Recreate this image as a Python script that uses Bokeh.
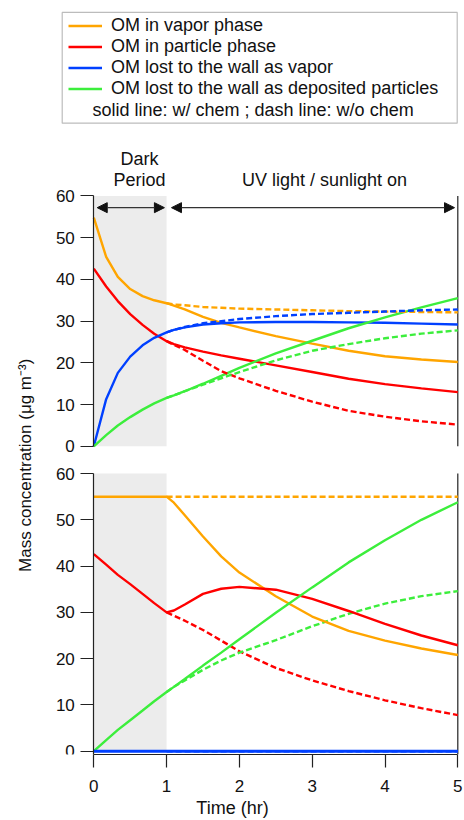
from bokeh.plotting import figure
from bokeh.models import (Range1d, LinearAxis, Legend, LegendItem, Label, Arrow,
                          NormalHead, BoxAnnotation, FixedTicker)
from bokeh.embed import file_html
from bokeh.resources import INLINE

# ---------------- data ----------------
t_dark = [0.0, 0.17, 0.33, 0.5, 0.67, 0.83, 1.0]
t_light = [1.0, 1.1, 1.25, 1.5, 1.75, 2.0, 2.5, 3.0, 3.5, 4.0, 4.5, 5.0]
t_all = t_dark + t_light[1:]

dark_period = [0.0, 1.0]
t_end = 5.0
y_ticks = [0, 10, 20, 30, 40, 50, 60]
x_ticks = [0, 1, 2, 3, 4, 5]
y_max = 60

# upper panel, with chemistry (solid, whole run)
a_vapor = [54.8, 45.4, 40.6, 37.7, 36.0, 35.0, 34.3,
           33.7, 32.8, 31.0, 29.6, 28.5, 26.4, 24.6, 22.9, 21.6, 20.8, 20.2]
a_particle = [42.6, 38.3, 34.8, 31.7, 29.1, 27.0, 25.2,
              24.5, 23.7, 22.7, 21.8, 21.0, 19.4, 17.8, 16.2, 14.9, 13.9, 13.0]
a_wall_vapor = [0.0, 11.3, 17.6, 21.5, 24.2, 26.0, 27.3,
                27.9, 28.5, 29.2, 29.5, 29.7, 29.8, 29.8, 29.7, 29.6, 29.4, 29.2]
a_wall_part = [0.0, 2.7, 5.0, 7.0, 8.8, 10.3, 11.6,
               12.2, 13.2, 15.0, 16.9, 18.8, 22.3, 25.3, 28.3, 30.9, 33.3, 35.5]
# upper panel, without chemistry (dashed, light period)
a_vapor_nc = [34.3, 34.0, 33.8, 33.4, 33.2, 33.0, 32.8, 32.6, 32.4, 32.3, 32.2, 32.1]
a_particle_nc = [25.2, 24.3, 23.1, 20.5, 18.0, 16.3, 13.3, 10.7, 8.5, 7.1, 6.0, 5.2]
a_wall_vapor_nc = [27.3, 27.9, 28.6, 29.5, 30.0, 30.5, 31.2, 31.7, 32.0, 32.3, 32.6, 32.8]
a_wall_part_nc = [11.6, 12.2, 13.2, 14.8, 16.3, 17.8, 20.6, 22.9, 24.5, 25.9, 27.0, 27.8]

# lower panel, with chemistry
b_vapor = [55.0, 55.0, 55.0, 55.0, 55.0, 55.0, 55.0,
           53.7, 51.0, 46.4, 42.1, 38.6, 33.5, 29.1, 26.0, 23.9, 22.2, 20.8]
b_particle = [42.6, 40.3, 38.1, 36.1, 34.0, 32.0, 30.0,
              30.4, 31.7, 34.0, 35.1, 35.5, 34.9, 32.9, 30.3, 27.5, 25.0, 22.9]
b_wall_vapor = [0.0, 0.0, 0.0, 0.0, 0.0, 0.0, 0.0,
                0.0, 0.0, 0.0, 0.0, 0.0, 0.0, 0.0, 0.0, 0.0, 0.0, 0.0]
b_wall_part = [0.0, 2.4, 4.6, 6.7, 8.8, 10.8, 12.8,
               13.9, 15.6, 18.5, 21.3, 24.2, 29.9, 35.4, 40.8, 45.6, 50.0, 53.8]
# lower panel, without chemistry
b_vapor_nc = [55.0, 55.0, 55.0, 55.0, 55.0, 55.0, 55.0, 55.0, 55.0, 55.0, 55.0, 55.0]
b_particle_nc = [30.0, 29.3, 28.2, 26.2, 23.9, 21.6, 18.0, 15.3, 13.0, 11.0, 9.3, 7.8]
b_wall_vapor_nc = [0.0, 0.0, 0.0, 0.0, 0.0, 0.0, 0.0, 0.0, 0.0, 0.0, 0.0, 0.0]
b_wall_part_nc = [12.8, 13.9, 15.3, 17.6, 19.6, 21.3, 24.0, 27.0, 29.7, 31.9, 33.5, 34.6]

labels = ["OM in vapor phase", "OM in particle phase",
          "OM lost to the wall as vapor", "OM lost to the wall as deposited particles"]
note = "solid line: w/ chem ; dash line: w/o chem"
ylabel = "Mass concentration (\u03bcg m\u207b\u00b3)"

# ---------------- layout geometry (page pixels) ----------------
W, H = 464, 820
FR_L, FR_R, FR_T, FR_B = 0, 464, 0, 756          # frame on page
X0_PX, X5_PX = 93.3, 457.3
TOP_0, TOP_60 = 447.0, 196.0
BOT_0, BOT_60 = 752.7, 474.3
kx = (X5_PX - X0_PX) / 5.0
kt = (TOP_0 - TOP_60) / 60.0
kb = (BOT_0 - BOT_60) / 60.0

def xd(px):
    return (px - X0_PX) / kx

def ytop(py):
    return (TOP_0 - py) / kt

x_range = Range1d(xd(FR_L), xd(FR_R))
y_bot = Range1d(-(FR_B - BOT_0) / kb, (BOT_0 - FR_T) / kb)
y_top = Range1d(ytop(FR_B), ytop(FR_T))

FONT = "Liberation Sans"
TXT = "18px"
C_OR, C_RED, C_BLUE, C_GREEN = "#ffa500", "#ff0000", "#0040ff", "#3cee3c"
colors = [C_OR, C_RED, C_BLUE, C_GREEN]

p = figure(width=W, height=H, x_range=x_range, y_range=y_bot,
           output_backend="svg", toolbar_location=None, y_axis_location=None,
           min_border_left=0, min_border_right=0, min_border_top=0,
           min_border_bottom=H - FR_B)
p.extra_y_ranges = {"top": y_top}
p.outline_line_color = None
p.grid.visible = False
p.background_fill_color = "white"
p.border_fill_color = "white"

# dark period shading
for rn in ("top", "default"):
    p.add_layout(BoxAnnotation(left=dark_period[0], right=dark_period[1],
                               bottom=0, top=y_max, y_range_name=rn,
                               fill_color="#ececec", fill_alpha=1.0,
                               line_alpha=0, level="underlay"))

# right frame lines
p.segment(x0=[t_end], y0=[0], x1=[t_end], y1=[y_max], y_range_name="top",
          line_color="#222222", line_width=1.2)
p.segment(x0=[t_end], y0=[y_bot.start], x1=[t_end], y1=[y_max],
          line_color="#222222", line_width=1.2)

LW = 2.4
DASH = "6 3"
sol_top = []
for ys, c in zip([a_vapor, a_particle, a_wall_vapor, a_wall_part], colors):
    sol_top.append(p.line(t_all, ys, y_range_name="top", line_color=c, line_width=LW))
for ys, c in zip([a_vapor_nc, a_particle_nc, a_wall_vapor_nc, a_wall_part_nc], colors):
    p.line(t_light, ys, y_range_name="top", line_color=c, line_width=LW, line_dash=DASH)

for ys, c in zip([b_vapor_nc, b_particle_nc, b_wall_part_nc], [C_OR, C_RED, C_GREEN]):
    p.line(t_light, ys, line_color=c, line_width=LW, line_dash=DASH)
for ys, c in zip([b_vapor, b_particle, b_wall_part], [C_OR, C_RED, C_GREEN]):
    p.line(t_all, ys, line_color=c, line_width=LW)
p.line(t_light, b_wall_vapor_nc, line_color=C_BLUE, line_width=LW, line_dash=DASH)
p.line(t_all, b_wall_vapor, line_color=C_BLUE, line_width=LW + 0.6)

# axes
def style_axis(ax):
    ax.axis_line_color = "#222222"
    ax.axis_line_width = 1.2
    ax.major_tick_line_color = "#222222"
    ax.major_tick_line_width = 1.2
    ax.major_tick_out = 13
    ax.major_tick_in = 0
    ax.minor_tick_line_color = None
    ax.major_label_text_font = FONT
    ax.major_label_text_font_size = "17px"
    ax.major_label_text_color = "#111111"
    ax.major_label_standoff = 6

ax_top = LinearAxis(y_range_name="top", fixed_location=0, bounds=(0, y_max),
                    ticker=FixedTicker(ticks=y_ticks))
ax_bot = LinearAxis(fixed_location=0, bounds=(y_bot.start, y_max),
                    ticker=FixedTicker(ticks=y_ticks))
style_axis(ax_top)
style_axis(ax_bot)
p.add_layout(ax_top, "left")
p.add_layout(ax_bot, "left")

xa = p.xaxis[0]
xa.ticker = FixedTicker(ticks=x_ticks)
xa.bounds = (0, t_end)
style_axis(xa)
xa.major_label_standoff = 12
xa.axis_label = "Time (hr)"
xa.axis_label_text_font = FONT
xa.axis_label_text_font_size = TXT
xa.axis_label_text_font_style = "normal"
xa.axis_label_text_color = "#111111"
xa.axis_label_standoff = 3

# y label
p.add_layout(Label(x=xd(25), y=ytop(466), y_range_name="top", text=ylabel,
                   angle=1.5708, text_align="center", text_baseline="middle",
                   text_font=FONT, text_font_size="17px", text_color="#111111"))

# annotations above the upper panel
head = dict(size=10, fill_color="#111111", line_color="#111111")
p.add_layout(Arrow(x_start=0.047, y_start=57.2, x_end=0.97, y_end=57.2,
                   y_range_name="top", line_color="#333333", line_width=1.2,
                   start=NormalHead(**head), end=NormalHead(**head)))
p.add_layout(Arrow(x_start=1.067, y_start=57.2, x_end=4.955, y_end=57.2,
                   y_range_name="top", line_color="#333333", line_width=1.2,
                   start=NormalHead(**head), end=NormalHead(**head)))
for txt, xp, yp in (("Dark", 139, 159), ("Period", 139, 180),
                    ("UV light / sunlight on", 324, 180)):
    p.add_layout(Label(x=xd(xp), y=ytop(yp), y_range_name="top", text=txt,
                       text_align="center", text_baseline="middle",
                       text_font=FONT, text_font_size=TXT, text_color="#111111"))

# legend box + legend + note
p.add_layout(BoxAnnotation(left=xd(61.7), right=xd(456.7), top=ytop(12), bottom=ytop(123),
                           y_range_name="top", fill_alpha=0.0,
                           line_color="#222222", line_width=1.2, level="annotation"))
legend = Legend(items=[LegendItem(label=l, renderers=[r]) for l, r in zip(labels, sol_top)],
                location=(68 - 4 - FR_L, FR_B - 105),
                padding=4, margin=0, spacing=0, glyph_width=34, glyph_height=19,
                label_height=19, label_standoff=9, label_text_font=FONT,
                label_text_font_size=TXT, label_text_color="#111111",
                background_fill_alpha=0, border_line_alpha=0)
p.add_layout(legend)
p.add_layout(Label(x=xd(92), y=ytop(110), y_range_name="top", text=note,
                   text_align="left", text_baseline="middle",
                   text_font=FONT, text_font_size=TXT, text_color="#111111"))

open("out.html", "w").write(file_html(p, INLINE))
